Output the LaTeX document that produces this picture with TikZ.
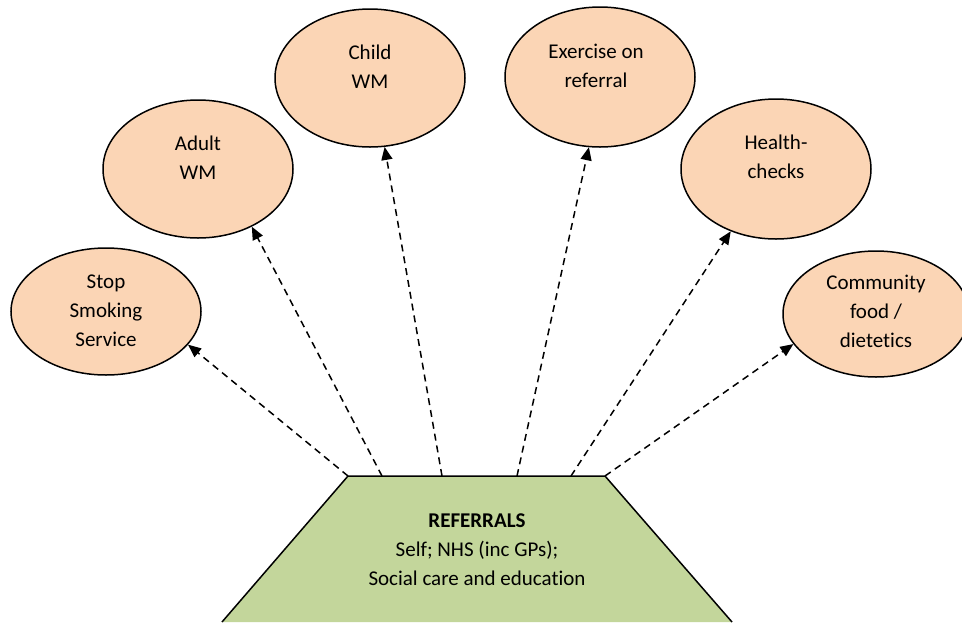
\documentclass[tikz,border=0pt]{standalone}
\usepackage{fontspec}
\setmainfont{Carlito}[Ligatures=NoCommon]
\usetikzlibrary{shapes.geometric,arrows.meta}

\definecolor{peach}{HTML}{FBD5B5}
\definecolor{olive}{HTML}{C3D69B}

\tikzset{
  service/.style={ellipse, draw=black, line width=1.5pt, fill=peach,
    inner sep=0pt},
  label/.style={align=center, inner sep=0pt,
    font=\fontsize{21}{29}\selectfont},
  referral/.style={->, >={Triangle[length=13pt,width=11pt]},
    line width=1.5pt, dash pattern=on 7pt off 5pt},
}

\begin{document}
\begin{tikzpicture}[x=1pt,y=-1pt]
  \useasboundingbox (0,0) rectangle (962,622);
  \clip (0,0) rectangle (962,622);

  % referral source (trapezoid running off the bottom edge)
  \draw[line width=1.5pt, fill=olive]
    (222,622) -- (348,476) coordinate (tl) -- (605,476) coordinate (tr)
    -- (732,622);
  \node[label] (ref) at (477,550)
    {\textbf{REFERRALS}\\Self; NHS (inc GPs);\\Social care and education};

  % start points of the connectors on the top edge
  \coordinate (sAdult) at (382,476);
  \coordinate (sChild) at (442,476);
  \coordinate (sEx)    at (517,476);
  \coordinate (sHealth) at (571,476);

  % services
  \node[service, minimum width=190pt, minimum height=127pt] (stop)  at (106,311.5) {};
  \node[service, minimum width=190pt, minimum height=138pt] (adult) at (198,169) {};
  \node[service, minimum width=190pt, minimum height=138pt] (child) at (370,78) {};
  \node[service, minimum width=190pt, minimum height=140pt] (ex)    at (600,77) {};
  \node[service, minimum width=190pt, minimum height=140pt] (health) at (776,169) {};
  \node[service, minimum width=186pt, minimum height=126pt] (food)  at (876,314) {};

  \node[label] (tStop)   at (106,311)   {Stop\\Smoking\\Service};
  \node[label] (tAdult)  at (198,157.5) {Adult\\WM};
  \node[label] (tChild)  at (370,67)    {Child\\WM};
  \node[label] (tEx)     at (596,65.5)  {Exercise on\\referral};
  \node[label] (tHealth) at (776,157)   {Health-\\checks};
  \node[label] (tFood)   at (876,311)   {Community\\food /\\dietetics};

  % connectors
  \draw[referral] (tl)      -- (stop.-22.5);
  \draw[referral] (sAdult)  -- (adult.-47);
  \draw[referral] (sChild)  -- (child.-78.2);
  \draw[referral] (sEx)     -- (ex.-99.6);
  \draw[referral] (sHealth) -- (health.-126.9);
  \draw[referral] (tr)      -- (food.-160.7);
\end{tikzpicture}
\end{document}
